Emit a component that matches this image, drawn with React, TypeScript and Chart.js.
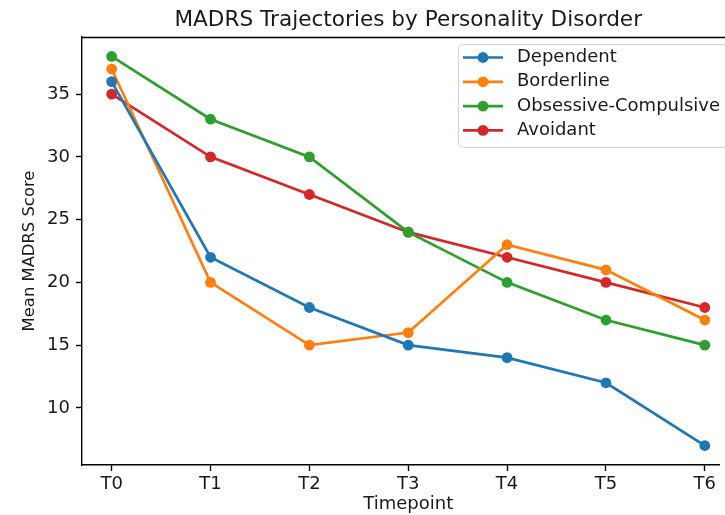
import React, { useEffect, useRef } from "react";
import { Chart, registerables } from "chart.js";

Chart.register(...registerables);

const categories = ["T0", "T1", "T2", "T3", "T4", "T5", "T6"];
const seriesNames = ["Dependent", "Borderline", "Obsessive-Compulsive", "Avoidant"];
const dependent = [36, 22, 18, 15, 14, 12, 7];
const borderline = [37, 20, 15, 16, 23, 21, 17];
const obsessiveCompulsive = [38, 33, 30, 24, 20, 17, 15];
const avoidant = [35, 30, 27, 24, 22, 20, 18];
const colors = ["#1f77b4", "#ff7f0e", "#2ca02c", "#d62728"];
const yTicks = [10, 15, 20, 25, 30, 35];

const TITLE = "MADRS Trajectories by Personality Disorder";
const X_TITLE = "Timepoint";
const Y_TITLE = "Mean MADRS Score";
const FONT = "'DejaVu Sans', sans-serif";
const TEXT = "#1a1a1a";

export default function App() {
  const ref = useRef<HTMLCanvasElement | null>(null);
  useEffect(() => {
    if (!ref.current) return;
    const all = [dependent, borderline, obsessiveCompulsive, avoidant];
    const flat = all.flat();
    const lo = Math.min(...flat);
    const hi = Math.max(...flat);
    const m = (hi - lo) * 0.05;
    const xm = (categories.length - 1) * 0.05;

    const decor = {
      id: "decor",
      afterDraw(chart: any) {
        const ctx = chart.ctx;
        const a = chart.chartArea;
        ctx.save();
        // top spine
        ctx.strokeStyle = "#000";
        ctx.lineWidth = 1.4;
        ctx.beginPath();
        ctx.moveTo(a.left, a.top + 0.5);
        ctx.lineTo(chart.width, a.top + 0.5);
        ctx.stroke();
        // title
        const xs = chart.scales.x;
        const cx = (xs.getPixelForValue(-xm) + xs.getPixelForValue(categories.length - 1 + xm)) / 2;
        ctx.fillStyle = TEXT;
        ctx.font = `21.6px ${FONT}`;
        ctx.textAlign = "center";
        ctx.textBaseline = "alphabetic";
        ctx.fillText(TITLE, cx, 26);
        // x title
        ctx.font = `18px ${FONT}`;
        ctx.textBaseline = "middle";
        ctx.fillText(X_TITLE, cx, 504);
        // y title
        ctx.save();
        ctx.font = `16.4px ${FONT}`;
        ctx.translate(29.5, 251);
        ctx.rotate(-Math.PI / 2);
        ctx.fillText(Y_TITLE, 0, 0);
        ctx.restore();
        // legend
        const lx = 458.5, ly = 44.5, lw = 290, lh = 103, r = 4;
        ctx.beginPath();
        ctx.moveTo(lx + r, ly);
        ctx.lineTo(lx + lw - r, ly);
        ctx.arcTo(lx + lw, ly, lx + lw, ly + r, r);
        ctx.lineTo(lx + lw, ly + lh - r);
        ctx.arcTo(lx + lw, ly + lh, lx + lw - r, ly + lh, r);
        ctx.lineTo(lx + r, ly + lh);
        ctx.arcTo(lx, ly + lh, lx, ly + lh - r, r);
        ctx.lineTo(lx, ly + r);
        ctx.arcTo(lx, ly, lx + r, ly, r);
        ctx.closePath();
        ctx.fillStyle = "rgba(255,255,255,0.8)";
        ctx.fill();
        ctx.strokeStyle = "#d4d4d4";
        ctx.lineWidth = 1;
        ctx.stroke();
        seriesNames.forEach((name, i) => {
          const y = 57.5 + i * 24.3;
          ctx.strokeStyle = colors[i];
          ctx.lineWidth = 2.7;
          ctx.beginPath();
          ctx.moveTo(463, y);
          ctx.lineTo(503, y);
          ctx.stroke();
          ctx.fillStyle = colors[i];
          ctx.beginPath();
          ctx.arc(483, y, 5.4, 0, Math.PI * 2);
          ctx.fill();
          ctx.fillStyle = TEXT;
          ctx.font = `18px ${FONT}`;
          ctx.textAlign = "left";
          ctx.textBaseline = "middle";
          ctx.fillText(name, 517, y);
        });
        ctx.restore();
      },
    };

    const chart = new Chart(ref.current, {
      type: "line",
      data: {
        datasets: all.map((vals, i) => ({
          label: seriesNames[i],
          data: vals.map((v, j) => ({ x: j, y: v })),
          borderColor: colors[i],
          backgroundColor: colors[i],
          borderWidth: 2.7,
          pointRadius: 5.4,
          pointHoverRadius: 5.4,
          pointBorderWidth: 0,
          tension: 0,
          clip: false as any,
        })),
      },
      options: {
        animation: false,
        responsive: false,
        events: [],
        layout: { padding: { top: 37, left: 0, right: 0, bottom: 0 } },
        plugins: { legend: { display: false }, title: { display: false }, tooltip: { enabled: false } },
        scales: {
          x: {
            type: "linear",
            min: -xm,
            max: categories.length - 1 + xm - 15 / 99.7,
            afterBuildTicks: (s: any) => {
              s.ticks = categories.map((_, i) => ({ value: i }));
            },
            afterFit: (s: any) => {
              s.height = 50;
            },
            ticks: {
              callback: (v: any) => categories[v] ?? "",
              color: TEXT,
              font: { family: FONT, size: 18 },
              padding: 3,
              maxRotation: 0,
              autoSkip: false,
            },
            grid: { drawOnChartArea: false, drawTicks: true, tickLength: 6, color: "#000", tickWidth: 1.4 },
            border: { display: true, color: "#000", width: 1.4 },
          },
          y: {
            min: lo - m,
            max: hi + m,
            afterBuildTicks: (s: any) => {
              s.ticks = yTicks.map((v) => ({ value: v }));
            },
            afterFit: (s: any) => {
              s.width = 82;
            },
            ticks: {
              color: TEXT,
              font: { family: FONT, size: 18 },
              padding: 6,
            },
            grid: { drawOnChartArea: false, drawTicks: true, tickLength: 6, color: "#000", tickWidth: 1.4 },
            border: { display: true, color: "#000", width: 1.4 },
          },
        },
      },
      plugins: [decor],
    });
    return () => chart.destroy();
  }, []);
  return (
    <div style={{ position: "absolute", left: 0, top: 0, width: 725, height: 515, background: "#fff" }}>
      <canvas ref={ref} width={725} height={515} style={{ width: 725, height: 515, display: "block" }} />
    </div>
  );
}
